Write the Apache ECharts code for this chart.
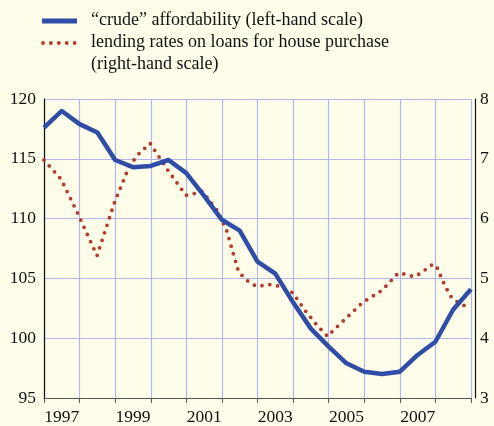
<!DOCTYPE html>
<html>
<head>
<meta charset="utf-8">
<script src="https://cdn.jsdelivr.net/npm/echarts@6/dist/echarts.min.js"></script>
<style>
  html, body { margin: 0; padding: 0; background: #fefdea; }
  #chart { width: 494px; height: 426px; }
</style>
</head>
<body>
<div id="chart"></div>
<script>
// Calendar years shown along the bottom axis
const years = ['1997','1998','1999','2000','2001','2002','2003','2004','2005','2006','2007','2008'];

// "Crude" affordability index, half-yearly (left-hand scale)
const affordDates = [1997.0, 1997.5, 1998.0, 1998.5, 1999.0, 1999.5, 2000.0, 2000.5, 2001.0, 2001.5,
                     2002.0, 2002.5, 2003.0, 2003.5, 2004.0, 2004.5, 2005.0, 2005.5, 2006.0, 2006.5,
                     2007.0, 2007.5, 2008.0, 2008.5, 2009.0];
const affordValues = [117.6, 119.0, 117.9, 117.2, 114.9, 114.3, 114.4, 114.9, 113.8, 111.9,
                      109.9, 109.0, 106.4, 105.4, 103.0, 100.8, 99.3, 97.9, 97.2, 97.0,
                      97.2, 98.6, 99.7, 102.4, 104.1];

// Lending rates on loans for house purchase, % (right-hand scale)
const rateDates = [1997.0, 1997.48, 1997.96, 1998.49, 1998.98, 1999.40, 1999.66, 1999.98, 2000.48, 2000.99,
                   2001.23, 2001.43, 2001.59, 2001.86, 2001.97, 2002.14, 2002.33, 2002.46, 2002.59, 2002.74,
                   2002.96, 2003.16, 2003.38, 2003.59, 2003.79, 2004.0, 2004.13, 2004.38, 2004.67, 2004.97,
                   2005.13, 2005.94, 2006.12, 2006.50, 2006.81, 2006.96, 2007.17, 2007.38, 2007.57, 2007.75,
                   2007.93, 2008.04, 2008.22, 2008.32, 2008.43, 2008.58, 2008.77, 2008.97];
const rateValues = [6.98, 6.66, 6.07, 5.38, 6.27, 6.88, 7.08, 7.26, 6.81, 6.39,
                    6.42, 6.46, 6.35, 6.14, 6.0, 5.79, 5.39, 5.13, 5.03, 4.95,
                    4.87, 4.88, 4.90, 4.87, 4.81, 4.76, 4.64, 4.43, 4.22, 4.03,
                    4.13, 4.59, 4.66, 4.80, 5.00, 5.09, 5.07, 5.03, 5.08, 5.16,
                    5.24, 5.19, 4.94, 4.82, 4.70, 4.62, 4.56, 4.49];

// Tick values for the two vertical scales
const leftTicks = [95, 100, 105, 110, 115, 120];
const rightTicks = [3, 4, 5, 6, 7, 8];

const legendLabels = ['\u201ccrude\u201d affordability (left-hand scale)',
                      'lending rates on loans for house purchase',
                      '(right-hand scale)'];

const BLUE = '#2f4da6';
const RED = '#b43a2c';
const GRID = '#b2b6ec';
const FONT = '"Liberation Serif", "DejaVu Serif", serif';

const chart = echarts.init(document.getElementById('chart'), null, { renderer: 'canvas' });

const zip = (xs, ys) => xs.map((x, i) => [x, ys[i]]);

chart.setOption({
  backgroundColor: '#fefdea',
  animation: false,
  grid: { left: 44, right: 23, top: 99, bottom: 27, containLabel: false },
  xAxis: [
    {
      type: 'category',
      data: years,
      boundaryGap: true,
      axisLine: { show: true, lineStyle: { color: '#555', width: 1 } },
      axisTick: { show: true, interval: 0, length: 5, lineStyle: { color: '#555' } },
      axisLabel: { interval: 1, margin: 10, color: '#111', fontFamily: FONT, fontSize: 17.5 },
      splitLine: { show: true, interval: 0, lineStyle: { color: GRID, width: 1.2 } }
    },
    { type: 'value', min: 1997, max: 2009, show: false }
  ],
  yAxis: [
    {
      type: 'value', min: leftTicks[0], max: leftTicks[leftTicks.length - 1], interval: 5,
      axisLine: { show: true, lineStyle: { color: '#111', width: 1.2 } },
      axisTick: { show: false },
      axisLabel: { margin: 8, color: '#111', fontFamily: FONT, fontSize: 17.5 },
      splitLine: { show: true, lineStyle: { color: GRID, width: 1.2 } }
    },
    {
      type: 'value', position: 'right', offset: 4,
      min: rightTicks[0], max: rightTicks[rightTicks.length - 1], interval: 1,
      axisLine: { show: true, lineStyle: { color: '#111', width: 1.2 } },
      axisTick: { show: false },
      axisLabel: { margin: 5, color: '#111', fontFamily: FONT, fontSize: 17.5 },
      splitLine: { show: false }
    }
  ],
  graphic: [
    { type: 'line', shape: { x1: 42, y1: 21, x2: 77, y2: 21 }, style: { stroke: BLUE, lineWidth: 5 } },
    { type: 'line', shape: { x1: 43, y1: 43, x2: 77, y2: 43 },
      style: { stroke: RED, lineWidth: 3.8, lineDash: [0, 7.9], lineCap: 'round' } },
    { type: 'text', left: 91, top: 11, style: { text: legendLabels[0], font: '18px ' + FONT, fill: '#111' } },
    { type: 'text', left: 91, top: 33, style: { text: legendLabels[1], font: '18px ' + FONT, fill: '#111' } },
    { type: 'text', left: 91, top: 55, style: { text: legendLabels[2], font: '18px ' + FONT, fill: '#111' } }
  ],
  series: [
    {
      name: 'lending rates',
      type: 'line',
      xAxisIndex: 1, yAxisIndex: 1,
      data: zip(rateDates, rateValues),
      showSymbol: false,
      lineStyle: { color: RED, width: 3.8, type: [0, 7.9], cap: 'round' },
      z: 3
    },
    {
      name: 'crude affordability',
      type: 'line',
      xAxisIndex: 1, yAxisIndex: 0,
      data: zip(affordDates, affordValues),
      showSymbol: false,
      lineStyle: { color: BLUE, width: 4.5, join: 'round' },
      z: 4
    }
  ]
});
</script>
</body>
</html>
